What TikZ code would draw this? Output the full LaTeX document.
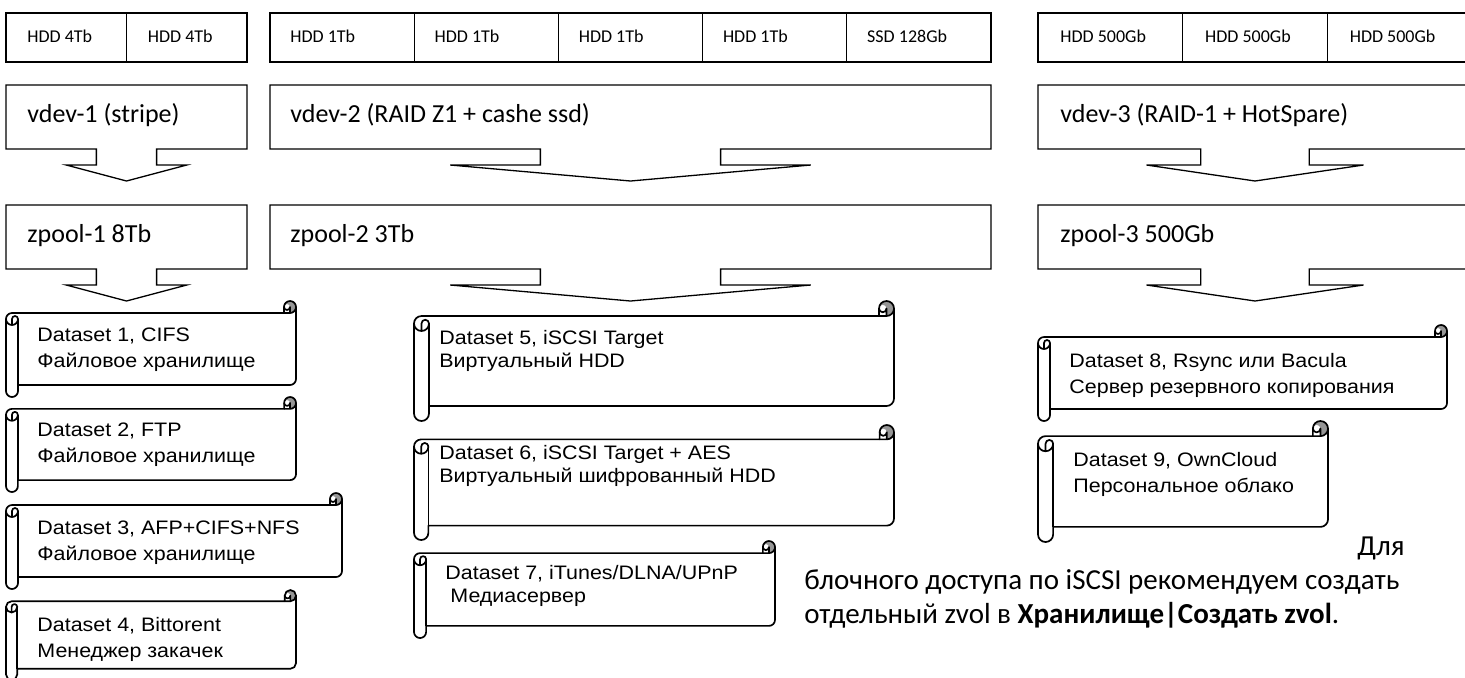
\documentclass[tikz,border=0pt]{standalone}
\usepackage{fontspec}
\usepackage{tikz}
\usetikzlibrary{calc}
\newfontfamily\calfont{Carlito}
\newfontfamily\arfont{Liberation Sans}[FakeStretch=1.1]
\definecolor{CurlGray}{RGB}{150, 150, 150}

% block with a down arrow under it: left, top, right
\newcommand{\poolbox}[3]{%
  \pgfmathsetmacro{\pbC}{(#1+#3)/2}%
  \pgfmathsetmacro{\pbS}{(#3-#1)/8}%
  \pgfmathsetmacro{\pbH}{(#3-#1)/4}%
  \draw[boxline] (#1,#2) -- (#3,#2) -- (#3,#2+64) -- (\pbC+\pbS,#2+64) --
    (\pbC+\pbS,#2+80) -- (\pbC+\pbH,#2+80) -- (\pbC,#2+96) -- (\pbC-\pbH,#2+80) --
    (\pbC-\pbS,#2+80) -- (\pbC-\pbS,#2+64) -- (#1,#2+64) -- cycle;
}

% horizontal scroll: left, top, right, bottom
\newcommand{\dataroll}[4]{%
  \pgfmathsetmacro{\rc}{(#4-#2)/8}%
  \pgfmathsetmacro{\rh}{\rc/2}%
  \pgfmathsetmacro{\rq}{\rc/4}%
  \pgfmathsetmacro{\rTa}{#2+\rh}%
  \pgfmathsetmacro{\rTb}{#2+\rc}%
  \pgfmathsetmacro{\rTc}{#2+1.5*\rc}%
  \pgfmathsetmacro{\rTd}{#2+2*\rc}%
  \pgfmathsetmacro{\rBa}{#4-1.5*\rc}%
  \pgfmathsetmacro{\rBb}{#4-\rc}%
  \pgfmathsetmacro{\rBc}{#4-\rh}%
  \pgfmathsetmacro{\rLa}{#1+\rh}%
  \pgfmathsetmacro{\rLb}{#1+\rc}%
  \pgfmathsetmacro{\rRa}{#3-\rc}%
  \pgfmathsetmacro{\rRb}{#3-\rh}%
  \fill[CurlGray] (\rRb,\rTb) arc[start angle=90, delta angle=-270, radius=\rh]
    arc[start angle=180, delta angle=180, radius=\rq] -- cycle;
  \draw[rollline] (#1,\rTc) arc[start angle=180, delta angle=90, radius=\rh] --
    (\rRa,\rTb) -- (\rRa,\rTa) arc[start angle=180, delta angle=180, radius=\rh] --
    (#3,\rBa) arc[start angle=0, delta angle=90, radius=\rh] -- (\rLb,\rBb) --
    (\rLb,\rBc) arc[start angle=0, delta angle=180, radius=\rh] -- cycle;
  \draw[rollline] (\rRa,\rTb) -- (\rRb,\rTb) arc[start angle=90, delta angle=-90, radius=\rh];
  \draw[rollline] (\rRb,\rTb) -- (\rRb,\rTa) arc[start angle=0, delta angle=180, radius=\rq];
  \draw[rollline] (\rLa,\rTd) -- (\rLa,\rTc) arc[start angle=180, delta angle=180, radius=\rq]
    arc[start angle=0, delta angle=180, radius=\rh];
  \draw[rollline] (\rLb,\rTc) -- (\rLb,\rBb);
}

\begin{document}
\begin{tikzpicture}[x=0.5pt, y=-0.5pt,
  boxline/.style={draw=black, line width=0.65pt},
  rollline/.style={draw=black, line width=0.85pt, line join=round},
  disktext/.style={font=\calfont\fontsize{9}{11}\selectfont, anchor=base west, inner sep=0pt},
  pooltext/.style={font=\calfont\fontsize{13}{15}\selectfont, anchor=base west, inner sep=0pt},
  dstext/.style={font=\arfont\fontsize{9.75}{13}\selectfont, align=left, anchor=west, inner sep=0pt},
  dstight/.style={dstext, font=\arfont\fontsize{9.75}{11.5}\selectfont},
  notetext/.style={font=\calfont\fontsize{14.5}{17}\selectfont, inner sep=0pt}]
  \useasboundingbox (0,0) rectangle (1465,677);
  \fill[white] (0,0) rectangle (1465,677);

  % disks
  \foreach \i/\x in {1/6, 2/126.5} {
    \draw[boxline] (\x,13) rectangle ++(120.5,49);
    \node[disktext] (hddA\i) at (\x+21,42) {HDD 4Tb};
  }
  \foreach \i/\x/\t in {1/270/HDD 1Tb, 2/414.2/HDD 1Tb, 3/558.4/HDD 1Tb,
                        4/702.6/HDD 1Tb, 5/846.8/SSD 128Gb} {
    \draw[boxline] (\x,13) rectangle ++(144.2,49);
    \node[disktext] (hddB\i) at (\x+20,42) {\t};
  }
  \foreach \i/\x in {1/1038, 2/1182.7, 3/1327.4} {
    \draw[boxline] (\x,13) rectangle ++(144.7,49);
    \node[disktext] (hddC\i) at (\x+22,42) {HDD 500Gb};
  }

  % vdev
  \poolbox{6}{85}{247}
  \poolbox{270}{85}{991}
  \poolbox{1038}{85}{1472}
  \node[pooltext] (vdevA) at (27,122) {vdev-1 (stripe)};
  \node[pooltext] (vdevB) at (290,122) {vdev-2 (RAID Z1 + cashe ssd)};
  \node[pooltext] (vdevC) at (1060,122) {vdev-3 (RAID-1 + HotSpare)};

  % zpool
  \poolbox{6}{205}{247}
  \poolbox{270}{205}{991}
  \poolbox{1038}{205}{1472}
  \node[pooltext] (poolA) at (27,242) {zpool-1 8Tb};
  \node[pooltext] (poolB) at (290,242) {zpool-2 3Tb};
  \node[pooltext] (poolC) at (1060,242) {zpool-3 500Gb};

  % datasets of zpool-1
  \dataroll{6}{301}{296}{397}
  \dataroll{6}{397}{296}{492}
  \dataroll{6}{493}{342}{589}
  \dataroll{6}{590}{296}{680}
  \node[dstext] (dsA) at (37,350) {Dataset 1, CIFS\\Файловое хранилище};
  \node[dstext] (dsB) at (37,445) {Dataset 2, FTP\\Файловое хранилище};
  \node[dstext] (dsC) at (37,543) {Dataset 3, AFP+CIFS+NFS\\Файловое хранилище};
  \node[dstext] (dsD) at (37,639) {Dataset 4, Bittorent\\Менеджер закачек};

  % datasets of zpool-2
  \dataroll{414}{301}{894}{421}
  \dataroll{414}{425}{894}{540}
  \dataroll{414}{541}{775}{638}
  \node[dstight] (dsE) at (439,351) {Dataset 5, iSCSI Target\\Виртуальный HDD};
  \node[dstight] (dsF) at (439,466) {Dataset 6, iSCSI Target + AES\\Виртуальный шифрованный HDD};
  \node[dstight] (dsG) at (445,586) {Dataset 7, iTunes/DLNA/UPnP\\\hspace*{2.5pt}Медиасервер};

  % datasets of zpool-3
  \dataroll{1038}{325}{1447}{421}
  \dataroll{1038}{421}{1328}{542}
  \node[dstext] (dsH) at (1069,375) {Dataset 8, Rsync или Bacula\\Сервер резервного копирования};
  \node[dstext] (dsI) at (1073,474) {Dataset 9, OwnCloud\\Персональное облако};

  % note
  \node[notetext, anchor=east] (noteA) at (1405,548) {Для};
  \node[notetext, anchor=west, align=left] (noteB) at (804,599)
    {блочного доступа по iSCSI рекомендуем создать\\отдельный zvol в \textbf{Хранилище|Создать zvol}.};
\end{tikzpicture}
\end{document}
